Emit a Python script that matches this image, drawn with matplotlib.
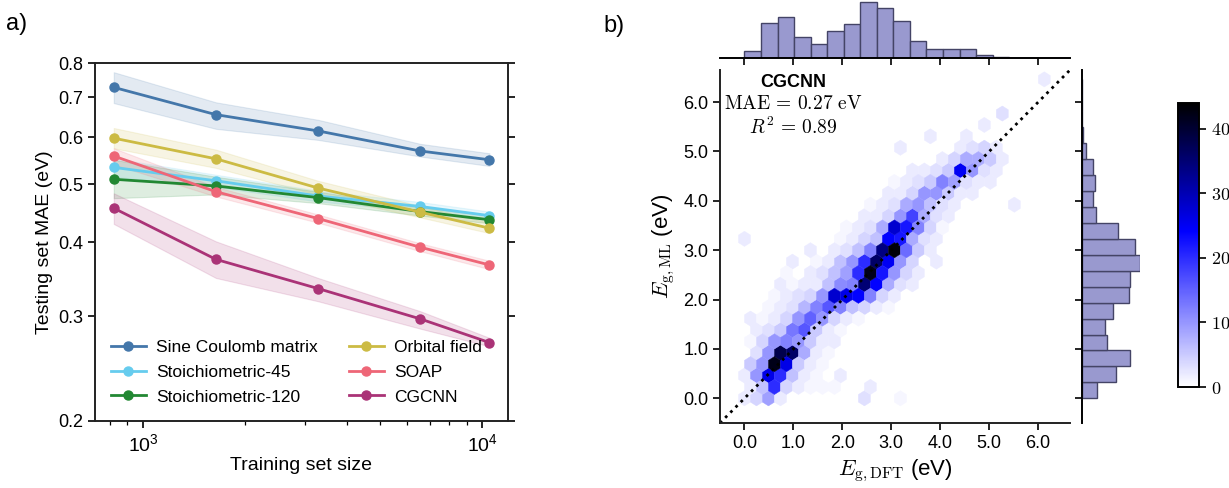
import numpy as np
import matplotlib.pyplot as plt
from matplotlib.colors import LinearSegmentedColormap

plt.rcParams['font.family'] = ['Liberation Sans', 'DejaVu Sans']
plt.rcParams['mathtext.fontset'] = 'cm'

# ---- panel a: learning curves ----
train_size = [820, 1640, 3280, 6560, 10490]

sine_mae = [0.728, 0.655, 0.615, 0.569, 0.550]
sine_lo = [0.685, 0.620, 0.594, 0.557, 0.537]
sine_hi = [0.772, 0.687, 0.642, 0.585, 0.564]

st45_mae = [0.534, 0.507, 0.478, 0.459, 0.443]
st45_lo = [0.515, 0.495, 0.468, 0.451, 0.436]
st45_hi = [0.553, 0.519, 0.488, 0.467, 0.450]

st120_mae = [0.510, 0.497, 0.475, 0.450, 0.436]
st120_lo = [0.474, 0.481, 0.465, 0.443, 0.430]
st120_hi = [0.550, 0.515, 0.486, 0.458, 0.443]

orb_mae = [0.598, 0.552, 0.493, 0.449, 0.422]
orb_lo = [0.575, 0.533, 0.480, 0.440, 0.414]
orb_hi = [0.622, 0.572, 0.507, 0.460, 0.431]

soap_mae = [0.558, 0.486, 0.438, 0.392, 0.366]
soap_lo = [0.540, 0.477, 0.431, 0.386, 0.360]
soap_hi = [0.575, 0.495, 0.445, 0.398, 0.372]

cgcnn_mae = [0.456, 0.374, 0.334, 0.297, 0.271]
cgcnn_lo = [0.429, 0.348, 0.318, 0.286, 0.267]
cgcnn_hi = [0.483, 0.401, 0.348, 0.306, 0.276]

series = [
    ('Sine Coulomb matrix', '#4477AA', sine_mae, sine_lo, sine_hi),
    ('Stoichiometric-45', '#66CCEE', st45_mae, st45_lo, st45_hi),
    ('Stoichiometric-120', '#228833', st120_mae, st120_lo, st120_hi),
    ('Orbital field', '#CCBB44', orb_mae, orb_lo, orb_hi),
    ('SOAP', '#EE6677', soap_mae, soap_lo, soap_hi),
    ('CGCNN', '#AA3377', cgcnn_mae, cgcnn_lo, cgcnn_hi),
]

# ---- panel b: hexbin cells, one list entry per ML-gap row ----
# each row: (E_g,ML, [E_g,DFT cells], [counts])
hex_rows = [
    (0.00, [0.00, 0.245, 0.49, 0.735, 2.45, 3.185], [2, 4, 9, 2, 3, 1]),
    (0.23, [0.12, 0.37, 0.61, 0.86, 1.10, 1.35, 1.59, 1.84, 2.57], [2, 6, 20, 4, 2, 1, 1, 1, 2]),
    (0.46, [0.00, 0.245, 0.49, 0.735, 0.98, 1.225, 1.47, 1.96], [2, 10, 26, 20, 6, 2, 1, 2]),
    (0.69, [0.12, 0.37, 0.61, 0.86, 1.10, 1.35, 1.59], [5, 10, 42, 26, 5, 2, 1]),
    (0.92, [0.245, 0.49, 0.735, 0.98, 1.225, 1.47, 1.715], [3, 10, 38, 36, 8, 2, 1]),
    (1.15, [0.12, 0.37, 0.61, 0.86, 1.10, 1.35, 1.59, 1.84], [1, 4, 10, 12, 10, 5, 2, 2]),
    (1.38, [0.245, 0.49, 0.735, 0.98, 1.225, 1.47, 1.715, 1.96], [2, 3, 5, 13, 16, 5, 2, 1]),
    (1.61, [0.12, 0.37, 0.61, 0.86, 1.10, 1.35, 1.59, 1.84, 2.08, 2.33], [2, 1, 2, 4, 10, 15, 10, 4, 2, 1]),
    (1.85, [0.49, 0.735, 0.98, 1.225, 1.47, 1.715, 1.96, 2.205, 2.45, 2.695, 2.94],
     [1, 2, 3, 7, 12, 16, 12, 6, 4, 2, 1]),
    (2.08, [0.61, 0.86, 1.10, 1.35, 1.59, 1.84, 2.08, 2.33, 2.57, 2.82, 3.06],
     [1, 2, 3, 4, 10, 28, 26, 24, 12, 4, 2]),
    (2.31, [0.735, 0.98, 1.225, 1.47, 1.715, 1.96, 2.205, 2.45, 2.695, 2.94, 3.185, 3.43],
     [2, 1, 2, 2, 6, 11, 12, 35, 24, 8, 3, 2]),
    (2.54, [0.86, 1.35, 1.59, 1.84, 2.08, 2.33, 2.57, 2.82, 3.06, 3.31, 3.55],
     [1, 2, 3, 6, 9, 20, 42, 22, 10, 4, 2]),
    (2.77, [0.98, 1.47, 1.715, 1.96, 2.205, 2.45, 2.695, 2.94, 3.185, 3.43, 3.92],
     [2, 1, 2, 6, 10, 20, 36, 25, 10, 4, 2]),
    (3.00, [1.35, 1.84, 2.08, 2.33, 2.57, 2.82, 3.06, 3.31, 3.55, 3.80],
     [2, 2, 3, 6, 12, 34, 43, 14, 5, 2]),
    (3.23, [0.00, 1.96, 2.205, 2.45, 2.695, 2.94, 3.185, 3.43, 3.675, 3.92],
     [2, 1, 2, 4, 6, 24, 22, 8, 3, 2]),
    (3.46, [2.08, 2.33, 2.57, 2.82, 3.06, 3.31, 3.55, 3.80, 4.04], [1, 2, 3, 8, 28, 22, 12, 4, 1]),
    (3.69, [2.45, 2.695, 2.94, 3.185, 3.43, 3.675, 3.92, 4.165], [2, 2, 4, 10, 18, 8, 3, 2]),
    (3.92, [2.57, 2.82, 3.06, 3.31, 3.55, 3.80, 4.04, 4.29, 5.51], [1, 2, 3, 8, 10, 6, 3, 2, 2]),
    (4.15, [2.94, 3.185, 3.43, 3.675, 3.92, 4.165, 4.41, 4.655], [2, 2, 4, 10, 10, 5, 2, 2]),
    (4.38, [3.06, 3.31, 3.55, 3.80, 4.04, 4.29, 4.53, 4.78, 5.02], [1, 2, 3, 5, 12, 9, 3, 2, 2]),
    (4.61, [3.43, 3.675, 3.92, 4.165, 4.41, 4.655, 4.90, 5.145], [2, 2, 3, 5, 25, 10, 3, 2]),
    (4.84, [4.04, 4.29, 4.53, 4.78, 5.02, 5.27], [2, 4, 8, 8, 5, 2]),
    (5.08, [3.185, 4.41, 4.655, 4.90, 5.145], [2, 2, 3, 4, 2]),
    (5.31, [3.80, 4.53], [2, 2]),
    (5.54, [4.90], [2]),
    (5.77, [5.27], [3]),
    (6.46, [6.125], [2]),
]
hex_x = [x for _, xs, _ in hex_rows for x in xs]
hex_y = [y for y, xs, _ in hex_rows for _ in xs]
hex_n = [n for _, _, ns in hex_rows for n in ns]

# marginal histogram counts (20 bins each)
dft_hist = [20, 106, 124, 64, 43, 82, 103, 172, 152, 113, 53, 29, 28, 29, 10, 3, 1, 0, 1, 0]
ml_hist = [45, 101, 142, 75, 69, 93, 139, 142, 173, 159, 108, 42, 34, 40, 34, 12, 3, 1, 1, 1]

W, H = 1229, 488
fig = plt.figure(figsize=(W / 100, H / 100), dpi=100)


def px_axes(x0, y0, x1, y1):
    return fig.add_axes([x0 / W, 1 - y1 / H, (x1 - x0) / W, (y1 - y0) / H])


# ===== panel a =====
ax = px_axes(95, 63, 508, 421)
for label, c, m, lo, hi in series:
    ax.fill_between(train_size, lo, hi, color=c, alpha=0.15, lw=0.8)
    ax.plot(train_size, m, '-o', color=c, lw=2, ms=6.5, label=label)
ax.set_xscale('log')
ax.set_yscale('log')
ax.set_xlim(722, 11900)
ax.set_ylim(0.2, 0.8)
yt = [0.2, 0.3, 0.4, 0.5, 0.6, 0.7, 0.8]
ax.set_yticks(yt)
ax.set_yticklabels(['%.1f' % v for v in yt])
ax.yaxis.set_minor_locator(plt.NullLocator())
ax.tick_params(axis='both', which='both', direction='out', labelsize=13)
ax.tick_params(axis='y', which='major', right=True, length=5, width=1.2)
ax.tick_params(axis='x', which='major', length=5, width=1.2, labelsize=14, pad=4)
ax.tick_params(axis='x', which='minor', length=3, width=0.9)
for s in ax.spines.values():
    s.set_linewidth(1.4)
    s.set_color('#222222')
ax.set_xlabel('Training set size', fontsize=14)
ax.xaxis.set_label_coords(0.5, (421 - 457) / 358)
ax.set_ylabel('Testing set MAE (eV)', fontsize=14)
ax.yaxis.set_label_coords((53 - 95) / 413, 0.5)
ax.legend(loc='upper left', ncol=2, frameon=False, fontsize=12.5,
          handlelength=2.0, handletextpad=0.6, columnspacing=1.8,
          labelspacing=0.55, borderpad=0.4, borderaxespad=0,
          bbox_to_anchor=(104 / W, 1 - 333 / H),
          bbox_transform=fig.transFigure)
fig.text(6 / W, 1 - 30 / H, 'a)', fontsize=17)
fig.text(603 / W, 1 - 32 / H, 'b)', fontsize=17)

# ===== panel b =====
lim = (-0.5, 6.65)
cmap = LinearSegmentedColormap.from_list(
    'wbk', [(0, 'white'), (0.55, '#0000ff'), (1, 'black')])

axm = px_axes(720, 70, 1070, 423)
hb = axm.hexbin(hex_x, hex_y, C=hex_n, reduce_C_function=np.sum,
                gridsize=(25, 14), extent=(0, 6.125, 0, 6.46),
                cmap=cmap, vmin=0, vmax=44, mincnt=1,
                linewidths=0.3, edgecolors='face')
axm.plot(lim, lim, ':', color='black', lw=2)
axm.set_xlim(lim)
axm.set_ylim(lim)
ticks = [0, 1, 2, 3, 4, 5, 6]
axm.set_xticks(ticks)
axm.set_yticks(ticks)
axm.set_xticklabels(['%.1f' % t for t in ticks])
axm.set_yticklabels(['%.1f' % t for t in ticks])
axm.tick_params(direction='out', labelsize=13, length=5, width=1.2)
axm.spines['top'].set_visible(False)
axm.spines['right'].set_visible(False)
for s in ('left', 'bottom'):
    axm.spines[s].set_linewidth(1.4)
    axm.spines[s].set_color('#222222')
axm.set_xlabel(r'$E_{\mathrm{g,DFT}}$ (eV)', fontsize=16)
axm.xaxis.set_label_coords(0.5, (423 - 458) / 353)
axm.set_ylabel(r'$E_{\mathrm{g,ML}}$ (eV)', fontsize=16)
axm.yaxis.set_label_coords((677 - 720) / 350, 0.5)
axm.text(0.209, 0.965, 'CGCNN', transform=axm.transAxes, ha='center',
         va='center', fontsize=13, fontweight='bold')
axm.text(0.209, 0.905, r'$\mathrm{MAE}\,=\,0.27\ \mathrm{eV}$',
         transform=axm.transAxes, ha='center', va='center', fontsize=14)
axm.text(0.209, 0.838, r'$R^2\,=\,0.89$', transform=axm.transAxes,
         ha='center', va='center', fontsize=14)

bar_fc = '#9999cf'
bar_ec = '#444466'

# top marginal
axt = px_axes(720, 0, 1070, 58)
xe = np.linspace(0, 6.76, len(dft_hist) + 1)
axt.bar(xe[:-1], dft_hist, width=np.diff(xe), align='edge',
        color=bar_fc, edgecolor=bar_ec, lw=1)
axt.set_xlim(lim)
axt.set_ylim(0, max(dft_hist) * 1.03)
axt.set_xticks(ticks)
axt.set_xticklabels([])
axt.set_yticks([])
for s in ('top', 'right', 'left'):
    axt.spines[s].set_visible(False)
axt.spines['bottom'].set_linewidth(1.4)
axt.tick_params(direction='out', length=5, width=1.2)

# right marginal
axr = px_axes(1082, 70, 1140, 423)
ye = np.linspace(0, 6.46, len(ml_hist) + 1)
axr.barh(ye[:-1], ml_hist, height=np.diff(ye), align='edge',
         color=bar_fc, edgecolor=bar_ec, lw=1)
axr.set_ylim(lim)
axr.set_xlim(0, max(ml_hist) * 1.0)
axr.set_yticks(ticks)
axr.set_yticklabels([])
axr.set_xticks([])
for s in ('top', 'right', 'bottom'):
    axr.spines[s].set_visible(False)
axr.spines['left'].set_linewidth(1.4)
axr.tick_params(direction='out', length=5, width=1.2)

# colorbar
cax = px_axes(1178, 103, 1199, 387)
cb = fig.colorbar(hb, cax=cax)
cb.set_ticks([0, 10, 20, 30, 40])
cb.set_ticklabels([r'$%d$' % v for v in [0, 10, 20, 30, 40]])
cb.ax.tick_params(labelsize=13, length=5, width=1.2)
cb.outline.set_linewidth(1.4)

fig.savefig('out.png', dpi=100)
